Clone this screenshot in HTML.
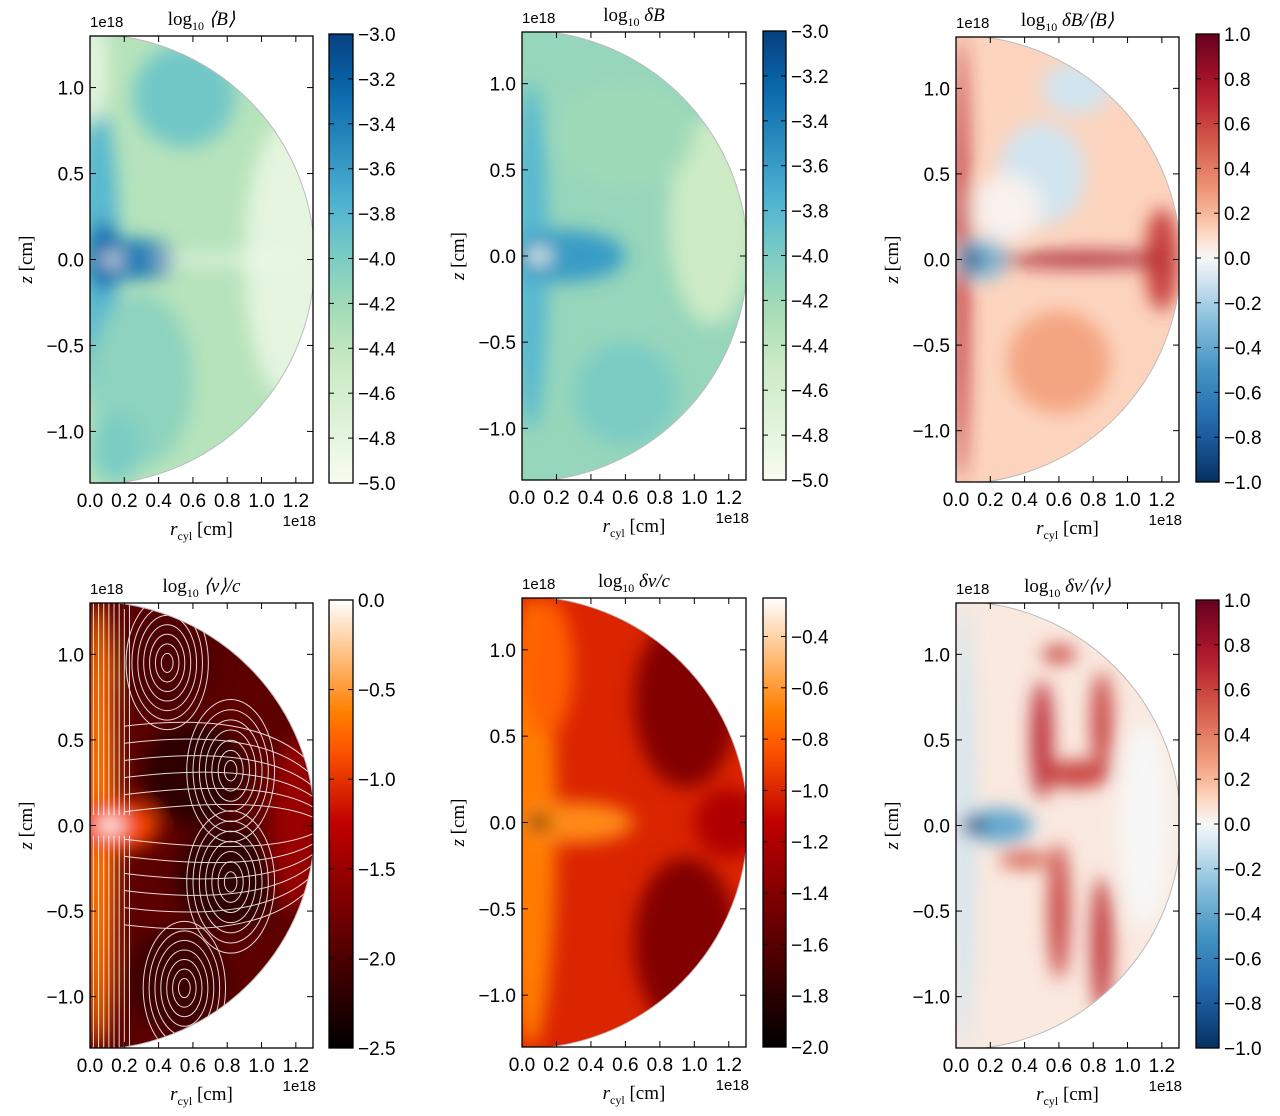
<!DOCTYPE html>
<html><head><meta charset="utf-8"><style>
html,body{margin:0;padding:0;background:#fff;}
svg{display:block;}
text{font-family:"Liberation Sans",sans-serif;}
.serif{font-family:"Liberation Serif",serif;}
</style></head><body>
<svg id="fig" width="1280" height="1116" viewBox="0 0 1280 1116" xmlns="http://www.w3.org/2000/svg">
<defs>
<filter id="blur" x="-50%" y="-50%" width="200%" height="200%"><feGaussianBlur stdDeviation="9"/></filter>
</defs>
</svg>
<script>
const xTicks=[0.0,0.2,0.4,0.6,0.8,1.0,1.2];
const yTicks=[-1.0,-0.5,0.0,0.5,1.0];
const cbTicksB=[-3.0,-3.2,-3.4,-3.6,-3.8,-4.0,-4.2,-4.4,-4.6,-4.8,-5.0];
const cbTicksR=[1.0,0.8,0.6,0.4,0.2,0.0,-0.2,-0.4,-0.6,-0.8,-1.0];
const cbTicksV=[0.0,-0.5,-1.0,-1.5,-2.0,-2.5];
const cbTicksDV=[-0.4,-0.6,-0.8,-1.0,-1.2,-1.4,-1.6,-1.8,-2.0];
const baseVals=[-4.35,-4.15,0.12,-1.9,-1.0,0.05];
// blobs: [r, z, rx, rz, value]
const blobs1=[[0.05,0,0.12,0.9,-3.8],[0.02,1.1,0.08,0.3,-4.8],[0.25,0,0.25,0.12,-3.4],[0.08,0.02,0.1,0.2,-3.3],[0.55,0.95,0.3,0.3,-3.95],[1.15,0,0.25,0.8,-4.8],[0.3,-0.7,0.3,0.5,-4.1],[0.15,-1.1,0.15,0.2,-4.0],[0.8,0,0.45,0.025,-4.9],[0.13,0,0.06,0.03,-5.0]];
const blobs2=[[0.05,0,0.1,1.0,-3.8],[0.25,0,0.35,0.15,-3.6],[1.1,0.2,0.25,0.6,-4.5],[0.6,-0.8,0.3,0.3,-4.0],[0.6,0.7,0.4,0.3,-4.2],[0.1,0,0.07,0.04,-5.0]];
const blobs3=[[0.03,0,0.04,1.3,0.7],[0.5,0.5,0.25,0.3,-0.1],[0.7,1.0,0.2,0.15,-0.1],[0.6,-0.6,0.3,0.3,0.25],[0.3,0.3,0.2,0.2,0.02],[1.2,0,0.1,0.3,0.6],[0.15,0,0.15,0.12,-0.3],[0.75,0,0.5,0.04,0.8],[0.1,0,0.07,0.05,-0.95]];
const blobs4=[[0.05,0,0.1,1.3,-0.7],[0.6,0.3,0.3,0.3,-2.2],[0.8,-0.3,0.3,0.3,-2.2],[0.5,-0.9,0.3,0.3,-2.1],[0.45,0.95,0.3,0.3,-2.0],[1.2,0,0.15,0.5,-1.5],[0.15,0,0.25,0.15,-0.9],[0.12,0,0.08,0.05,0.0]];
const blobs5=[[0.05,0,0.15,1.3,-0.7],[0.95,0.7,0.3,0.5,-1.4],[0.95,-0.7,0.3,0.5,-1.4],[1.2,0,0.2,0.2,-1.2],[0.15,0.9,0.15,0.4,-0.8],[0.3,0,0.35,0.12,-0.65],[0.1,0,0.07,0.04,-2.0]];
const blobs6=[[0.05,0,0.06,1.3,-0.1],[1.1,0,0.15,0.6,0.0],[0.5,0.5,0.06,0.35,0.7],[0.7,0.3,0.2,0.08,0.6],[0.85,0.6,0.06,0.3,0.6],[0.6,-0.5,0.06,0.4,0.6],[0.85,-0.7,0.06,0.4,0.65],[0.4,-0.2,0.15,0.05,0.5],[0.6,1.0,0.1,0.05,0.6],[0.25,0,0.2,0.1,-0.4],[0.1,0,0.07,0.05,-0.95]];
// vortex centres for streamlines [r,z,size]
const vortices=[[0.45,0.95,0.3],[0.82,0.32,0.32],[0.82,-0.33,0.32],[0.55,-0.95,0.3]];

const NS="http://www.w3.org/2000/svg";
const svg=document.getElementById('fig');
function el(t,a,p){const e=document.createElementNS(NS,t);for(const k in a)e.setAttribute(k,a[k]);(p||svg).appendChild(e);return e;}
function hex(h){return [parseInt(h.slice(1,3),16),parseInt(h.slice(3,5),16),parseInt(h.slice(5,7),16)];}
function stopsMap(stops){return t=>{t=Math.max(0,Math.min(1,t));for(let i=1;i<stops.length;i++){if(t<=stops[i][0]){const a=stops[i-1],b=stops[i];const f=(t-a[0])/(b[0]-a[0]||1);const ca=hex(a[1]),cb=hex(b[1]);return 'rgb('+ca.map((v,j)=>Math.round(v+(cb[j]-v)*f)).join(',')+')';}}return stops[stops.length-1][1];};}
const GnBu=stopsMap([[0,'#f7fcf0'],[0.125,'#e0f3db'],[0.25,'#ccebc5'],[0.375,'#a8ddb5'],[0.5,'#7bccc4'],[0.625,'#4eb3d3'],[0.75,'#2b8cbe'],[0.875,'#0868ac'],[1,'#084081']]);
const RdBu=stopsMap([[0,'#053061'],[0.125,'#2166ac'],[0.25,'#4393c3'],[0.375,'#92c5de'],[0.45,'#d1e5f0'],[0.5,'#f7f7f7'],[0.55,'#fddbc7'],[0.625,'#f4a582'],[0.75,'#d6604d'],[0.875,'#b2182b'],[1,'#67001f']]);
function heat(t){t=Math.max(0,Math.min(1,t));const c=[1.5*t,2*t-1,4*t-3].map(v=>Math.round(255*Math.max(0,Math.min(1,v))));return 'rgb('+c.join(',')+')';}

const panels=[
 {ax:[90,36,313,483],cb:[329,34,353,483],vmin:-5,vmax:-3,cmap:GnBu,ticks:cbTicksB,blobs:blobs1,title:['log','10',' ⟨B⟩'],name:'mean-B'},
 {ax:[522,32,746,480],cb:[763,31,786,480],vmin:-5,vmax:-3,cmap:GnBu,ticks:cbTicksB,blobs:blobs2,title:['log','10',' δB'],name:'delta-B'},
 {ax:[956,37,1179,482],cb:[1196,34,1219,482],vmin:-1,vmax:1,cmap:RdBu,ticks:cbTicksR,blobs:blobs3,title:['log','10',' δB/⟨B⟩'],name:'ratio-B'},
 {ax:[90,603,313,1048],cb:[329,600,353,1048],vmin:-2.5,vmax:0,cmap:heat,ticks:cbTicksV,blobs:blobs4,title:['log','10',' ⟨v⟩/c'],name:'mean-v',stream:true},
 {ax:[522,598,746,1047],cb:[763,598,786,1047],vmin:-2,vmax:-0.25,cmap:heat,ticks:cbTicksDV,blobs:blobs5,title:['log','10',' δv/c'],name:'delta-v'},
 {ax:[956,603,1179,1048],cb:[1196,600,1219,1048],vmin:-1,vmax:1,cmap:RdBu,ticks:cbTicksR,blobs:blobs6,title:['log','10',' δv/⟨v⟩'],name:'ratio-v'}
];
const R=1.31;
function fmt(v){return (v<0?'−':'')+Math.abs(v).toFixed(1);}
panels.forEach((p,i)=>{
 const [x0,y0,x1,y1]=p.ax;const w=x1-x0,h=y1-y0;
 const sx=v=>x0+v/1.3*w, sy=v=>y0+(1.3-v)/2.6*h, sc=v=>(v-p.vmin)/(p.vmax-p.vmin);
 const g=el('g',{});
 
 
 const cid='clip'+i;
 const cp=el('clipPath',{id:cid},g);
 const rpx=R/1.3*w, rpy=R/2.6*h;
 el('path',{d:`M${x0},${sy(0)-rpy} A${rpx},${rpy} 0 0 1 ${x0},${sy(0)+rpy} Z`},cp);
 const ci='cl2'+i;const cp2=el('clipPath',{id:ci},g);
 el('rect',{x:x0,y:y0,width:w,height:h},cp2);
 const outer=el('g',{'clip-path':`url(#${ci})`},g);
 const inner=el('g',{'clip-path':`url(#${cid})`},outer);
 const base=el('rect',{x:x0-20,y:y0-20,width:w+40,height:h+40,fill:p.cmap(sc(baseVals[i]))},inner);
 
 
 const bg=el('g',{filter:'url(#blur)'},inner);
 p.blobs.forEach(b=>{
  const e=el('ellipse',{cx:sx(b[0]),cy:sy(b[1]),rx:b[2]/1.3*w,ry:b[3]/2.6*h,fill:p.cmap(sc(b[4]))},bg);
  
  
 });
 if(p.stream){
  const sg=el('g',{stroke:'#fff','stroke-width':1,fill:'none',opacity:0.85},inner);
  for(let k=0;k<8;k++){const xx=sx(0.02+k*0.03);el('path',{d:`M${xx},${y0} L${xx},${sy(0.06)}M${xx},${sy(-0.06)} L${xx},${y1}`},sg);}
  vortices.forEach(v=>{for(let k=1;k<=7;k++){const f=k/7;el('ellipse',{cx:sx(v[0]),cy:sy(v[1]),rx:v[2]*f/1.3*w*0.8,ry:v[2]*f/2.6*h*1.3},sg);}});
  for(let k=0;k<6;k++){const zz=0.08+k*0.1;el('path',{d:`M${sx(0.2)},${sy(zz)} Q${sx(1.0)},${sy(zz+0.1)} ${sx(1.3)},${sy(zz*0.6)}`},sg);el('path',{d:`M${sx(0.2)},${sy(-zz)} Q${sx(1.0)},${sy(-zz-0.1)} ${sx(1.3)},${sy(-zz*0.6)}`},sg);}
 }
 el('path',{d:`M${x0},${sy(0)-rpy} A${rpx},${rpy} 0 0 1 ${x0},${sy(0)+rpy}`,fill:'none',stroke:'#bbb','stroke-width':1},outer);
 const fr=el('rect',{x:x0,y:y0,width:w,height:h,fill:'none',stroke:'#000','stroke-width':1.3},g);
 
 
 xTicks.forEach(v=>{const X=sx(v);el('line',{x1:X,y1:y1,x2:X,y2:y1-6,stroke:'#000'},g);el('line',{x1:X,y1:y0,x2:X,y2:y0+6,stroke:'#000'},g);
  const t=el('text',{x:X,y:y1+24,'font-size':19,'text-anchor':'middle'},g);t.textContent=v.toFixed(1);
  
  });
 yTicks.forEach(v=>{const Y=sy(v);el('line',{x1:x0,y1:Y,x2:x0+6,y2:Y,stroke:'#000'},g);el('line',{x1:x1,y1:Y,x2:x1-6,y2:Y,stroke:'#000'},g);
  const t=el('text',{x:x0-6,y:Y+7,'font-size':19,'text-anchor':'end'},g);t.textContent=fmt(v);
  
  });
 let t=el('text',{x:x0,y:y0-9,'font-size':15},g);t.textContent='1e18';
 
 
 t=el('text',{x:x1+3,y:y1+43,'font-size':15,'text-anchor':'end'},g);t.textContent='1e18';
 
 
 t=el('text',{x:(x0+x1)/2,y:y1+52,'font-size':19,'text-anchor':'middle','class':'serif'},g);
 t.innerHTML='<tspan font-style="italic">r</tspan><tspan font-size="12" dy="5">cyl</tspan><tspan dy="-5"> [cm]</tspan>';
 
 
 t=el('text',{x:0,y:0,'font-size':19,'text-anchor':'middle','class':'serif',transform:`translate(${x0-58},${sy(0)}) rotate(-90)`},g);
 t.innerHTML='<tspan font-style="italic">z</tspan> [cm]';
 
 
 t=el('text',{x:(x0+x1)/2,y:y0-11,'font-size':19,'text-anchor':'middle','class':'serif'},g);
 t.innerHTML=`<tspan>${p.title[0]}</tspan><tspan font-size="12" dy="5">${p.title[1]}</tspan><tspan dy="-5" font-style="italic">${p.title[2]}</tspan>`;
 
 
 const [cx0,cy0,cx1,cy1]=p.cb;
 const gid='cbg'+i;const lg=el('linearGradient',{id:gid,x1:0,y1:1,x2:0,y2:0},g);
 for(let k=0;k<=20;k++){el('stop',{offset:k/20,'stop-color':p.cmap(k/20)},lg);}
 const cb=el('rect',{x:cx0,y:cy0,width:cx1-cx0,height:cy1-cy0,fill:`url(#${gid})`,stroke:'#000','stroke-width':1.3},g);
 
 
 const cy=v=>cy1-(v-p.vmin)/(p.vmax-p.vmin)*(cy1-cy0);
 p.ticks.forEach(v=>{const Y=cy(v);el('line',{x1:cx1,y1:Y,x2:cx1-5,y2:Y,stroke:'#000'},g);el('line',{x1:cx0,y1:Y,x2:cx0+5,y2:Y,stroke:'#000'},g);
  const tt=el('text',{x:cx1+5,y:Y+7,'font-size':19},g);tt.textContent=fmt(v);
  
  });
});
</script>
</body></html>
